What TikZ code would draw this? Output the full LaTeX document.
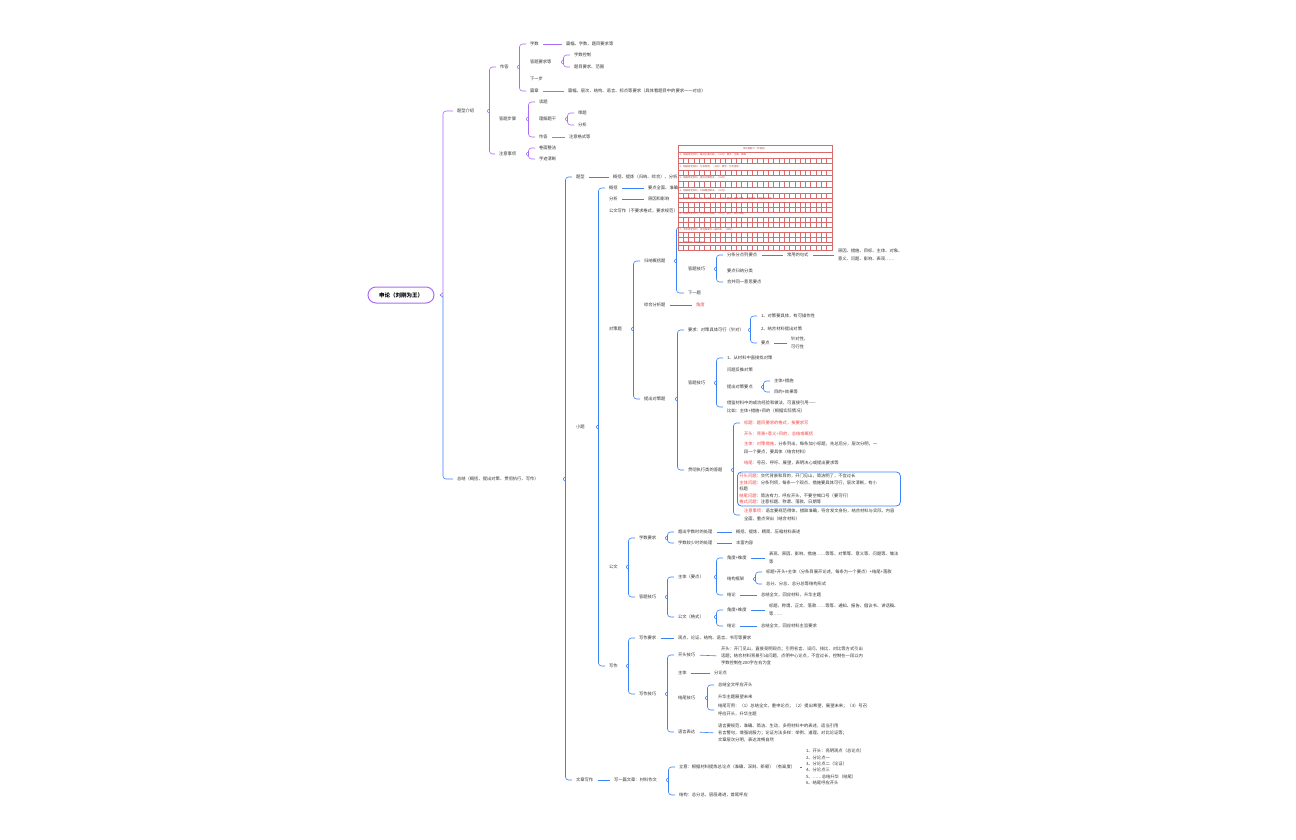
\documentclass[tikz,border=0pt]{standalone}
\usepackage{fontspec}
\setmainfont{Noto Sans CJK SC}
\usetikzlibrary{calc}
\definecolor{pu}{HTML}{A86CF6}
\definecolor{bu}{HTML}{3B82F6}
\definecolor{rd}{HTML}{F04545}
\definecolor{ink}{HTML}{333333}
\definecolor{grd}{HTML}{D86C6C}
\definecolor{grt}{HTML}{B84A4A}
\newcommand\brc[4][bu]{%
\draw[#1,brline] let \p1=(#3.west),\p2=(#4.west) in ({\x1-3pt},\y1) -- ({\x1-9.5pt},\y1) -- ({\x1-9.5pt},\y2) -- ({\x2-3pt},\y2);
\draw[#1,spk] let \p0=(#2.east),\p1=(#3.west) in ({\x1-9.5pt},{\y0+2.2pt}) -- ({\x1-12.5pt},\y0) -- ({\x1-9.5pt},{\y0-2.2pt});}
\begin{document}
\begin{tikzpicture}[x=1pt,y=-1pt,
  tx/.style={anchor=west,inner sep=0.8pt,text=ink,align=left,font=\fontsize{4.3}{7.5}\selectfont},
  rtx/.style={tx,text=rd},
  rootbox/.style={draw=pu,line width=1pt,rounded corners=8pt,minimum width=66,minimum height=16,inner sep=0,text=black,font=\bfseries\fontsize{5.5}{6}\selectfont},
  ln/.style={line width=0.6pt,shorten <=3.5pt,shorten >=3.5pt},
  brline/.style={line width=0.6pt,rounded corners=3pt},
  spk/.style={line width=0.6pt,rounded corners=1pt},
  gline/.style={grd,line width=0.6pt},
  ttx/.style={anchor=west,inner sep=0.4pt,text=grt,font=\fontsize{2.4}{3}\selectfont}]
\useasboundingbox (0,0) rectangle (1296,840);
\node[rootbox] (tid0) at (401,295) {申论（刘刚为王）};
\node[tx] (tid1) at (456,111) {题型介绍};
\node[tx] (tid11) at (499,67) {作答};
\node[tx] (tid111) at (529,44) {字数};
\node[tx] (tid1111) at (565,44) {篇幅、字数、题目要求等};
\node[tx] (tid112) at (529,62) {答题要求等};
\node[tx] (tid1121) at (573,55) {字数控制};
\node[tx] (tid1122) at (573,67) {题目要求、范围};
\node[tx] (tid113) at (529,79) {下一步};
\node[tx] (tid114) at (529,91) {篇章};
\node[tx] (tid1141) at (567,91) {篇幅、层次、结构、语言、标点等要求（具体看题目中的要求一一对应）};
\node[tx] (tid12) at (498,119) {答题步骤};
\node[tx] (tid121) at (538,102) {读题};
\node[tx] (tid122) at (538,119) {理解题干};
\node[tx] (tid1221) at (577,113) {审题};
\node[tx] (tid1222) at (577,125) {分析};
\node[tx] (tid123) at (538,137) {作答};
\node[tx] (tid1231) at (568,137) {注意格式等};
\node[tx] (tid13) at (498,154) {注意事项};
\node[tx] (tid131) at (538,148) {卷面整洁};
\node[tx] (tid132) at (538,159) {字迹清晰};
\draw[pu,ln] (tid111.east) -- (tid1111.west);
\draw[pu,ln] (tid114.east) -- (tid1141.west);
\draw[pu,ln] (tid123.east) -- (tid1231.west);
\brc[pu]{tid1}{tid11}{tid13}
\brc[pu]{tid11}{tid111}{tid114}
\brc[pu]{tid112}{tid1121}{tid1122}
\brc[pu]{tid12}{tid121}{tid123}
\brc[pu]{tid122}{tid1221}{tid1222}
\brc[pu]{tid13}{tid131}{tid132}
\node[tx] (tid2) at (456,479) {总结（概括、提出对策、贯彻执行、写作）};
\draw[pu,brline] let \p0=(tid0.east),\p1=(tid1.west) in ({\x1-3pt},\y1) -- ({\x1-13pt},\y1) -- ({\x1-13pt},\y0);
\draw[bu,brline] let \p0=(tid0.east),\p1=(tid2.west) in ({\x1-13pt},\y0) -- ({\x1-13pt},\y1) -- ({\x1-3pt},\y1);
\draw[pu,spk] let \p0=(tid0.east),\p1=(tid1.west) in ({\x1-13pt},{\y0+2.2pt}) -- ({\x1-16pt},\y0);
\draw[bu,spk] let \p0=(tid0.east),\p1=(tid1.west) in ({\x1-16pt},\y0) -- ({\x1-13pt},{\y0-2.2pt});
\node[tx] (tid21) at (575,177) {题型};
\node[tx] (tid211) at (612,177) {概括、提炼（归纳、综合）、分析、对策、公文写作};
\node[tx] (tid22) at (575,427) {小题};
\node[tx] (tid221) at (608,188) {概括};
\node[tx] (tid2211) at (647,188) {要点全面、准确、简明、有条理};
\node[tx] (tid222) at (608,199) {分析};
\node[tx] (tid2221) at (647,199) {原因和影响};
\node[tx] (tid223) at (608,211) {公文写作（不要求格式，要求规范）、答题纸格式};
\node[tx] (tid224) at (608,329) {对策题};
\node[tx] (tid2241) at (643,261) {归纳概括题};
\node[tx,inner sep=0] (tid2240) at (686,227) {};
\node[tx] (tid2242) at (687,269) {答题技巧};
\node[tx] (tid22421) at (726,255) {分条分点列要点};
\node[tx] (tid22422) at (786,255) {常用的句式};
\node[tx] (tid22423) at (837,255) {原因、措施、目标、主体、对象、\\意义、问题、影响、表现……};
\node[tx] (tid22424) at (726,271) {要点归纳分类};
\node[tx] (tid22425) at (726,282) {合并同一意思要点};
\node[tx] (tid2243) at (687,293) {下一题};
\node[tx] (tid2244) at (643,305) {综合分析题};
\node[rtx] (tid22441) at (695,305) {角度};
\node[tx] (tid2245) at (643,399) {提出对策题};
\node[tx] (tid22451) at (687,330) {要求：对策具体可行（针对）};
\node[tx] (tid224511) at (760,316) {1、对策要具体，有可操作性};
\node[tx] (tid224512) at (760,329) {2、结合材料提出对策};
\node[tx] (tid224513) at (760,343) {要点};
\node[tx] (tid224514) at (790,343) {针对性，\\可行性};
\node[tx] (tid22452) at (687,383) {答题技巧};
\node[tx] (tid224521) at (726,358) {1、从材料中直接找对策};
\node[tx] (tid224522) at (726,370) {问题反推对策};
\node[tx] (tid224523) at (726,387) {提出对策要点};
\node[tx] (tid2245231) at (773,381) {主体+措施};
\node[tx] (tid2245232) at (773,392) {目的+效果等};
\node[tx] (tid224524) at (726,407) {借鉴材料中的成功经验和做法，可直接引用——\\比如：主体+措施+目的（根据实际情况）};
\node[tx] (tid22453) at (687,470) {贯彻执行类的答题};
\node[rtx] (tid224531) at (743,423) {标题：题目要求的格式，按要求写};
\node[rtx] (tid224532) at (743,434) {开头：背景+意义+目的，总结或概括};
\node[tx] (tid224533) at (743,448) {\textcolor{rd}{主体：对策措施}，分条列出，每条加小标题，先总后分，层次分明，一\\段一个要点，要具体（结合材料）};
\node[tx] (tid224534) at (743,463) {\textcolor{rd}{结尾：}号召、呼吁、展望，表明决心或提出要求等};
\node[tx,draw=bu,line width=0.8pt,rounded corners=4pt,inner sep=2pt,text width=159pt,font=\fontsize{4.3}{6.5}\selectfont] (tid224535) at (737,489) {\textcolor{rd}{开头问题}：交代背景和目的，开门见山，简洁明了，不宜过长\\\textcolor{rd}{主体问题}：分条列项，每条一个观点，措施要具体可行，层次清晰，有小\\标题\\\textcolor{rd}{结尾问题}：简洁有力，呼应开头，不要空喊口号（要可行）\\\textcolor{rd}{格式问题}：注意标题、称谓、落款、日期等};
\node[tx] (tid224536) at (743,515) {\textcolor{rd}{注意事项}：语言要规范得体，措辞准确，符合发文身份，结合材料与实际，内容\\全面，重点突出（结合材料）};
\node[tx] (tid225) at (608,567) {公文};
\node[tx] (tid2251) at (638,538) {字数要求};
\node[tx] (tid22511) at (677,532) {超出字数时的处理};
\node[tx] (tid22512) at (735,532) {概括、提炼、精简、压缩材料表述};
\node[tx] (tid22513) at (677,543) {字数较少时的处理};
\node[tx] (tid22514) at (735,543) {丰富内容};
\node[tx] (tid2252) at (638,597) {答题技巧};
\node[tx] (tid22521) at (677,577) {主体（要点）};
\node[tx] (tid225211) at (726,558) {角度+维度};
\node[tx] (tid225212) at (768,558) {表现、原因、影响、措施……等等、对策等、意义等、问题等、做法\\等};
\node[tx] (tid225213) at (726,579) {结构框架};
\node[tx] (tid225214) at (765,572) {标题+开头+主体（分条目展开论述，每条为一个要点）+结尾+落款};
\node[tx] (tid225215) at (765,584) {总分、分总、总分总等结构形式};
\node[tx] (tid225216) at (726,595) {结论};
\node[tx] (tid225217) at (760,595) {总结全文，回应材料，升华主题};
\node[tx] (tid22522) at (677,617) {公文（格式）};
\node[tx] (tid225221) at (726,610) {角度+维度};
\node[tx] (tid225222) at (768,610) {标题、称谓、正文、落款……等等、通知、报告、倡议书、讲话稿、\\等……};
\node[tx] (tid225223) at (726,626) {结论};
\node[tx] (tid225224) at (760,626) {总结全文，回应材料主旨要求};
\node[tx] (tid226) at (608,666) {写作};
\node[tx] (tid2261) at (638,638) {写作要求};
\node[tx] (tid2262) at (677,638) {观点、论证、结构、语言、书写等要求};
\node[tx] (tid2263) at (638,694) {写作技巧};
\node[tx] (tid22631) at (677,655) {开头技巧};
\node[tx,font=\fontsize{4.3}{7}\selectfont] (tid22632) at (720,656) {开头：开门见山，直接亮明观点；引用名言、设问、排比、对比等方式引出\\话题；结合材料背景引出问题，点明中心论点，不宜过长，控制在一段以内\\字数控制在200字左右为宜};
\node[tx] (tid22633) at (677,673) {主体};
\node[tx] (tid22634) at (713,673) {分论点};
\node[tx] (tid22635) at (677,698) {结尾技巧};
\node[tx] (tid226351) at (717,685) {总结全文呼应开头};
\node[tx] (tid226352) at (717,697) {升华主题展望未来};
\node[tx] (tid226353) at (717,710) {结尾可用：（1）总结全文，重申论点；（2）提出希望，展望未来；（3）号召\\呼应开头，升华主题};
\node[tx] (tid22636) at (677,732) {语言表达};
\node[tx,font=\fontsize{4.3}{7}\selectfont] (tid22637) at (717,733) {语言要规范、准确、简洁、生动，多用材料中的表述，适当引用\\名言警句，增强说服力；论证方法多样：举例、道理、对比论证等；\\文章层次分明，表达流畅自然};
\node[tx] (tid23) at (575,780) {文章写作};
\node[tx] (tid231) at (613,780) {写一篇文章：材料作文};
\node[tx] (tid2311) at (678,767) {立意：根据材料提炼总论点（准确、深刻、新颖）（有高度）};
\node[tx,font=\fontsize{4.3}{6.4}\selectfont] (tid2312) at (805,767) {1、开头：亮明观点（总论点）\\2、分论点一\\3、分论点二（论证）\\4、分论点三\\5、……总结升华（结尾）\\6、结尾呼应开头};
\node[tx] (tid2313) at (678,795) {结构：总分总，层层递进，首尾呼应};
\draw[bu,ln] (tid21.east) -- (tid211.west);
\draw[bu,ln] (tid221.east) -- (tid2211.west);
\draw[bu,ln] (tid222.east) -- (tid2221.west);
\draw[bu,ln] (tid22421.east) -- (tid22422.west);
\draw[bu,ln] (tid22422.east) -- (tid22423.west);
\draw[rd,ln] (tid2244.east) -- (tid22441.west);
\draw[bu,ln] (tid224513.east) -- (tid224514.west);
\draw[bu,ln] (tid22511.east) -- (tid22512.west);
\draw[bu,ln] (tid22513.east) -- (tid22514.west);
\draw[bu,ln] (tid225211.east) -- (tid225212.west);
\draw[bu,ln] (tid225216.east) -- (tid225217.west);
\draw[bu,ln] (tid225221.east) -- (tid225222.west);
\draw[bu,ln] (tid225223.east) -- (tid225224.west);
\draw[bu,ln] (tid2261.east) -- (tid2262.west);
\draw[bu,ln] (tid22631.east) -- (tid22632.west);
\draw[bu,ln] (tid22633.east) -- (tid22634.west);
\draw[bu,ln] (tid22636.east) -- (tid22637.west);
\draw[bu,ln] (tid23.east) -- (tid231.west);
\draw[bu,ln] (tid2311.east) -- (tid2312.west);
\brc{tid2}{tid21}{tid23}
\brc{tid22}{tid221}{tid226}
\brc{tid224}{tid2241}{tid2245}
\brc{tid2241}{tid2240}{tid2243}
\brc{tid2242}{tid22421}{tid22425}
\brc{tid2245}{tid22451}{tid22453}
\brc{tid22451}{tid224511}{tid224513}
\brc{tid22452}{tid224521}{tid224524}
\brc{tid224523}{tid2245231}{tid2245232}
\brc{tid22453}{tid224531}{tid224536}
\brc{tid225}{tid2251}{tid2252}
\brc{tid2251}{tid22511}{tid22513}
\brc{tid2252}{tid22521}{tid22522}
\brc{tid22521}{tid225211}{tid225216}
\brc{tid225213}{tid225214}{tid225215}
\brc{tid22522}{tid225221}{tid225223}
\brc{tid226}{tid2261}{tid2263}
\brc{tid2263}{tid22631}{tid22636}
\brc{tid22635}{tid226351}{tid226353}
\brc{tid231}{tid2311}{tid2313}
\node[draw=grd,fill=white,line width=0.6pt,minimum width=154,minimum height=105,inner sep=0,anchor=north west] (tbl) at (678,145) {};
\node[ttx,anchor=center] (tbh) at (755,149) {申论答题卡（作答区）};
\draw[gline] (678,152) -- (832,152);
\foreach \a/\b in {158/163,170/175,181/187,193/198,202/207,207/212,217/222,222/227,232/237,237/242,245/250}
  {\draw[gline] (678,\a) -- (832,\a);
   \draw[gline] (678,\b) -- (832,\b);
   \foreach \k in {1,...,28} \draw[gline] ({678+\k*5.31},\a) -- ({678+\k*5.31},\b);}
\foreach \y/\t [count=\i] in {155/{1、根据给定资料，概括主要问题。（10分）要求：全面、准确},
  167/{2、根据给定资料，分析原因。（15分）要求：分析透彻},
  178/{3、根据给定资料，提出对策建议。（15分）},
  191/{4、根据给定资料，归纳概括做法。（10分）},
  199/{5、根据给定资料，写一份倡议书。（20分）要求：格式正确、内容具体，不超过400字},
  214/{6、根据给定资料，谈谈你的理解。（10分）要求：观点明确},
  230/{7、参考给定资料，自选角度写一篇文章。（40分）},
  243/{8、作答完毕，检查全文。}}
  \node[ttx] (tq\i) at (679,\y) {\t};
\end{tikzpicture}
\end{document}
